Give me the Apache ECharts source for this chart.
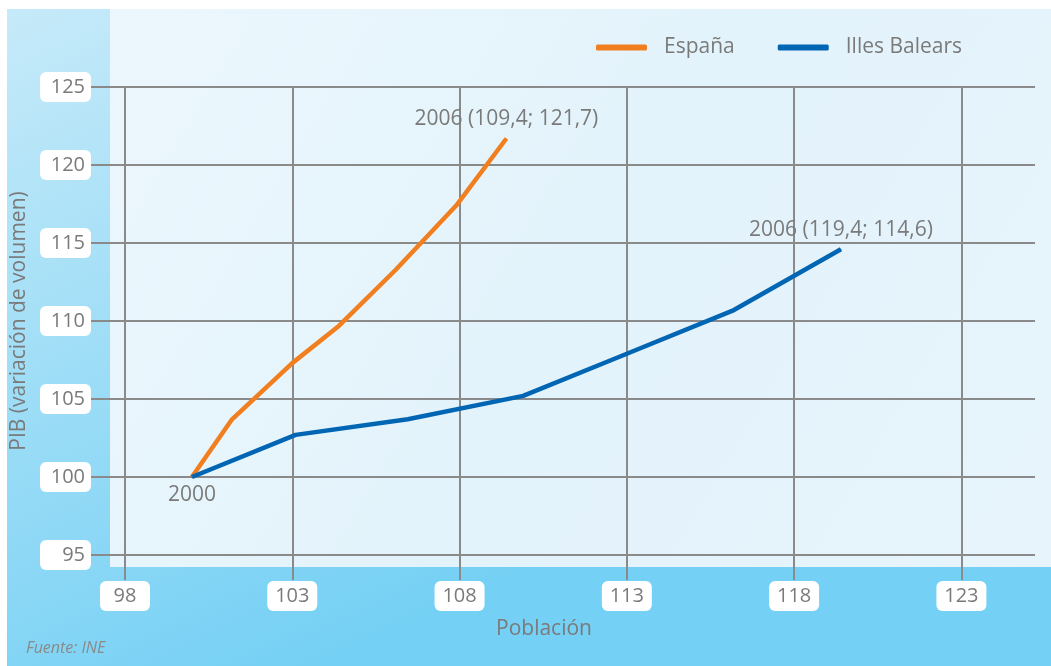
<!DOCTYPE html>
<html lang="es">
<head>
<meta charset="UTF-8" />
<title>PIB y población</title>
<script src="https://cdn.jsdelivr.net/npm/echarts@6.0.0/dist/echarts.min.js"></script>
<style>
  html, body { margin: 0; padding: 0; background: #fff; }
  #main { width: 1051px; height: 666px; }
</style>
</head>
<body>
<div id="main"></div>
<script type="text/javascript">
  // data
  const years = ["2000", "2001", "2002", "2003", "2004", "2005", "2006"];
  const espanaPob = [100, 101.2, 103.0, 104.4, 106.1, 107.9, 109.4];
  const espanaPib = [100, 103.7, 107.3, 109.7, 113.3, 117.4, 121.7];
  const balearsPob = [100, 103.1, 106.45, 109.9, 113.0, 116.2, 119.4];
  const balearsPib = [100, 102.7, 103.7, 105.2, 107.9, 110.7, 114.6];
  const xTicks = [98, 103, 108, 113, 118, 123];

  const grey = "#7a7a7a";
  const font = "Open Sans";
  const fmt = (v) => String(v).replace(".", ",");

  // point list; first point of Baleares gets the "2000" label underneath
  function points(pob, pib, labelFirst) {
    return pob.map((x, i) => {
      if (i === 0 && labelFirst) {
        return { value: [x, pib[i]], label: { position: "bottom", distance: 7 } };
      }
      return { value: [x, pib[i]] };
    });
  }

  function makeLabel(pob, showFirst) {
    return function (p) {
      const i = p.dataIndex;
      if (i === pob.length - 1) return years[i] + " (" + fmt(p.value[0]) + "; " + fmt(p.value[1]) + ")";
      if (i === 0 && showFirst) return years[0];
      return "";
    };
  }

  const chart = echarts.init(document.getElementById("main"));
  chart.setOption({
    animation: false,
    textStyle: { fontFamily: font },
    graphic: [
      {
        type: "rect", z: -10, silent: true,
        shape: { x: 7, y: 9, width: 1044, height: 657 },
        style: {
          fill: new echarts.graphic.LinearGradient(0, 0, 0.3, 1, [
            { offset: 0, color: "#c6eaf9" },
            { offset: 1, color: "#74d0f4" }
          ])
        }
      },
      {
        type: "rect", z: -9, silent: true,
        shape: { x: 110, y: 9, width: 941, height: 558 },
        style: {
          fill: new echarts.graphic.LinearGradient(0, 0, 1, 1, [
            { offset: 0, color: "#ecf7fd" },
            { offset: 0.5, color: "#e3f3fb" },
            { offset: 1, color: "#e7f4fc" }
          ])
        }
      },
      {
        type: "text", left: 26, top: 640, silent: true,
        style: { text: "Fuente: INE", fill: "#8a8a8a", font: "italic 16px 'Open Sans'" }
      }
    ],
    legend: {
      left: 591,
      top: 32,
      itemWidth: 51,
      itemHeight: 6,
      itemGap: 43,
      icon: "roundRect",
      textStyle: { color: grey, fontSize: 21, fontFamily: font, padding: [0, 0, 0, 12] },
      data: ["España", "Illes Balears"]
    },
    grid: { left: 125, right: 16, top: 87, bottom: 111, containLabel: false, outerBoundsMode: "none" },
    xAxis: {
      type: "value",
      min: 98,
      max: 125.2,
      interval: 5,
      name: "Población",
      nameLocation: "middle",
      nameGap: 64,
      nameTextStyle: { color: grey, fontSize: 21, fontFamily: font, padding: [0, 72, 0, 0] },
      axisLine: { show: false },
      axisTick: { show: true, length: 25, customValues: xTicks, lineStyle: { color: "#8a8a8a", width: 2 } },
      axisLabel: {
        customValues: xTicks,
        margin: 26,
        color: grey,
        fontSize: 20,
        fontFamily: font,
        backgroundColor: "#fff",
        borderRadius: 6,
        width: 36,
        align: "center",
        padding: [4, 7, 4, 7],
        lineHeight: 22
      },
      splitLine: { show: true, lineStyle: { color: "#8a8a8a", width: 2 } }
    },
    yAxis: {
      type: "value",
      min: 95,
      max: 125,
      interval: 5,
      name: "PIB (variación de volumen)",
      nameLocation: "middle",
      nameGap: 83,
      nameTextStyle: { color: grey, fontSize: 21, fontFamily: font },
      axisLine: { show: false },
      axisTick: { show: true, length: 34, lineStyle: { color: "#8a8a8a", width: 2 } },
      axisLabel: {
        margin: 34,
        color: grey,
        fontSize: 20,
        fontFamily: font,
        backgroundColor: "#fff",
        borderRadius: 6,
        width: 39,
        align: "right",
        padding: [4, 6, 4, 6],
        lineHeight: 22
      },
      splitLine: { show: true, lineStyle: { color: "#8a8a8a", width: 2 } }
    },
    series: [
      {
        name: "España",
        type: "line",
        data: points(espanaPob, espanaPib, false),
        symbol: "circle",
        symbolSize: 1,
        color: "#f27f1f",
        lineStyle: { width: 4.5, color: "#f27f1f" },
        label: {
          show: true,
          position: "top",
          distance: 8,
          color: grey,
          fontSize: 21,
          fontFamily: font,
          formatter: makeLabel(espanaPob, false)
        }
      },
      {
        name: "Illes Balears",
        type: "line",
        data: points(balearsPob, balearsPib, true),
        symbol: "circle",
        symbolSize: 1,
        color: "#0065b3",
        lineStyle: { width: 4.5, color: "#0065b3" },
        label: {
          show: true,
          position: "top",
          distance: 8,
          color: grey,
          fontSize: 21,
          fontFamily: font,
          formatter: makeLabel(balearsPob, true)
        }
      }
    ]
  });
</script>
</body>
</html>
